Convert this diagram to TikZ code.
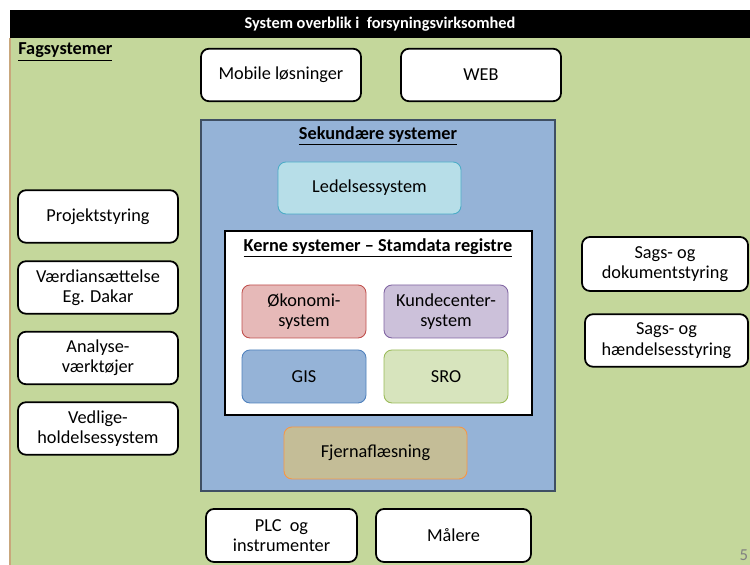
\documentclass[tikz,border=0pt]{standalone}
\usepackage{fontspec}
\setmainfont{Carlito}
\usepackage{tikz}
\definecolor{fagbg}{HTML}{C4D79B}
\definecolor{tanline}{HTML}{C9A77C}
\definecolor{sekbg}{HTML}{95B3D7}
\definecolor{sekline}{HTML}{3F4F63}
\definecolor{ledfill}{HTML}{B7DEE8}
\definecolor{ledline}{HTML}{4BACC6}
\definecolor{oekfill}{HTML}{E6B9B8}
\definecolor{oekline}{HTML}{C0504D}
\definecolor{kunfill}{HTML}{CCC1DA}
\definecolor{kunline}{HTML}{8064A2}
\definecolor{gisfill}{HTML}{95B3D7}
\definecolor{gisline}{HTML}{4F81BD}
\definecolor{srofill}{HTML}{D7E4BD}
\definecolor{sroline}{HTML}{9BBB59}
\definecolor{fjfill}{HTML}{C4BD97}
\definecolor{fjline}{HTML}{F79646}
\tikzstyle{sysbox}=[draw=black,line width=1pt,fill=white,rounded corners=0.16cm,align=center,inner sep=0pt,minimum width=3.2cm,minimum height=1.05cm,font=\fontsize{10.4}{11.6}\selectfont]
\newcommand{\sysbox}{\node[sysbox]}
\tikzstyle{corebox}=[sysbox,line width=0.5pt,minimum width=2.48cm,minimum height=1.06cm]
\newcommand{\corebox}{\node[corebox]}
\tikzstyle{heading}=[inner sep=0pt,font=\bfseries\fontsize{10.4}{12.4}\selectfont]
\newcommand{\heading}{\node[heading]}

\begin{document}
\begin{tikzpicture}
		% % % % % % % % % % % % % % % % % % % % % % % % % % % % %
		\useasboundingbox (0,0) rectangle (15,11.3);
		\fill [fagbg] (0.2,0) rectangle (15,10.54);
		\draw [tanline,line width=0.8pt] (0.2,0) -- (0.2,10.54);
		\node [fill=black,text=white,inner sep=0pt,minimum width=14.8cm,minimum height=0.56cm,font=\bfseries\fontsize{9.3}{11}\selectfont] (title) at (7.6,10.82) {System overblik i\ \ forsyningsvirksomhed};
		\heading [anchor=west] (fag) at (0.36,10.26) {\underline{Fagsystemer}};
		%*********************
		\fill [sekbg] (4.02,1.48) rectangle (11.1,8.9);
		\draw [sekline,line width=0.6pt] (4.02,1.48) rectangle (11.1,8.9);
		\heading (sek) at (7.56,8.58) {\underline{Sekundære systemer}};
		%*********************
		\draw [fill=white,line width=1.2pt] (4.5,3.0) rectangle (10.64,6.68);
		\heading (kerne) at (7.56,6.34) {\underline{Kerne systemer -- Stamdata registre}};
		% % % % % % % % % % % % % % % % % % % % % % % % % % % % %
		\sysbox (mob) at (5.62,9.8) [] {Mobile løsninger};
		\sysbox (web) at (9.62,9.8) [] {WEB};
		%***********************
		\sysbox (proj) at (1.96,6.97) [] {Projektstyring};
		\sysbox (vaerdi) at (1.96,5.55) [] {Værdiansættelse\\Eg. Dakar};
		\sysbox (analyse) at (1.96,4.14) [] {Analyse-\\værktøjer};
		\sysbox (vedl) at (1.96,2.73) [] {Vedlige-\\holdelsessystem};
		%***********************
		\sysbox (sagsdok) at (13.3,6.02) [minimum width=3.32cm,minimum height=1.08cm] {Sags- og\\dokumentstyring};
		\sysbox (sagshaend) at (13.33,4.49) [minimum width=3.26cm] {Sags- og\\hændelsesstyring};
		%***********************
		\sysbox (plc) at (5.63,0.59) [minimum width=3.02cm,minimum height=1.06cm] {PLC\ \ og\\instrumenter};
		\sysbox (maalere) at (9.07,0.59) [minimum width=3.1cm,minimum height=1.06cm] {Målere};
		%***********************
		\corebox (led) at (7.39,7.54) [minimum width=3.66cm,minimum height=1.04cm,fill=ledfill,draw=ledline] {Ledelsessystem};
		\corebox (oek) at (6.08,5.07) [fill=oekfill,draw=oekline] {Økonomi-\\system};
		\corebox (kunde) at (8.92,5.07) [fill=kunfill,draw=kunline] {Kundecenter-\\system};
		\corebox (gis) at (6.08,3.77) [fill=gisfill,draw=gisline] {GIS};
		\corebox (sro) at (8.92,3.77) [fill=srofill,draw=sroline] {SRO};
		\corebox (fjern) at (7.51,2.24) [minimum width=3.66cm,minimum height=1.04cm,fill=fjfill,draw=fjline] {Fjernaflæsning};
		%***********************
		\node [anchor=east,inner sep=0pt,text=gray,font=\fontsize{9.5}{11}\selectfont] (side) at (14.97,0.2) {5};
		%********************
\end{tikzpicture}
\end{document}
